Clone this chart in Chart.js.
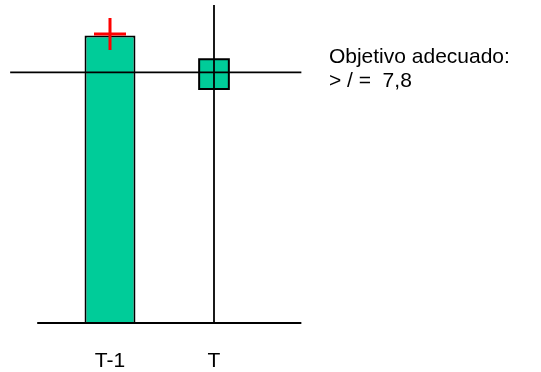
<!DOCTYPE html>
<html>
<head>
<meta charset="utf-8">
<script src="https://cdn.jsdelivr.net/npm/chart.js@4/dist/chart.umd.min.js"></script>
<style>
  html, body { margin: 0; padding: 0; background: #fff; }
  #wrap { width: 541px; height: 372px; }
</style>
</head>
<body>
<div id="wrap"><canvas id="can" width="541" height="372"></canvas></div>
<script>
// categories and values
const periods = ['T-1', 'T'];
const barValues = [8.95, null];      // green bar
const prevMark = [9.0, null];        // red cross
const currMark = [null, 7.75];       // green square
const target = 7.8;                  // objective line
const noteLines = ['Objetivo adecuado:', '> / =  7,8'];

const FONT = '"Liberation Sans", Arial, sans-serif';

// reference lines + note, drawn on top of the datasets
const refLines = {
  id: 'refLines',
  afterDatasetsDraw(chart) {
    const ctx = chart.ctx;
    const x = chart.scales.x, y = chart.scales.y;
    ctx.save();
    ctx.strokeStyle = '#000';
    ctx.lineWidth = 1.8;
    // target line
    ctx.beginPath();
    ctx.moveTo(x.getPixelForValue(-0.96), y.getPixelForValue(target));
    ctx.lineTo(x.getPixelForValue(1.84), y.getPixelForValue(target));
    ctx.stroke();
    // base line
    ctx.beginPath();
    ctx.moveTo(x.getPixelForValue(-0.70), y.getPixelForValue(0));
    ctx.lineTo(x.getPixelForValue(1.84), y.getPixelForValue(0));
    ctx.stroke();
    // vertical line at T
    ctx.beginPath();
    ctx.moveTo(x.getPixelForValue(1), y.getPixelForValue(y.max));
    ctx.lineTo(x.getPixelForValue(1), y.getPixelForValue(0));
    ctx.stroke();
    // note
    ctx.fillStyle = '#000';
    ctx.font = '21px ' + FONT;
    ctx.textBaseline = 'alphabetic';
    const tx = x.getPixelForValue(2.105);
    const ty = y.getPixelForValue(target);
    ctx.fillText(noteLines[0], tx, ty - 9);
    ctx.fillText(noteLines[1], tx, ty + 15);
    ctx.restore();
  }
};

const ctx = document.getElementById('can').getContext('2d');
new Chart(ctx, {
  type: 'bar',
  data: {
    labels: periods,
    datasets: [
      {
        type: 'line',
        data: prevMark,
        showLine: false,
        pointStyle: 'cross',
        pointRadius: 16,
        borderColor: '#ff0000',
        borderWidth: 3,
        pointHoverRadius: 16
      },
      {
        type: 'line',
        data: currMark,
        showLine: false,
        pointStyle: 'rect',
        pointRadius: 21,
        backgroundColor: '#00cc99',
        borderColor: '#000',
        borderWidth: 2,
        pointHoverRadius: 21
      },
      {
        data: barValues,
        backgroundColor: '#00cc99',
        borderColor: '#000',
        borderWidth: 2,
        categoryPercentage: 1,
        barPercentage: 0.49
      }
    ]
  },
  options: {
    responsive: false,
    animation: false,
    events: [],
    layout: { autoPadding: false, padding: { left: 58, right: 275, top: 5, bottom: 0 } },
    plugins: { legend: { display: false }, tooltip: { enabled: false } },
    scales: {
      x: {
        offset: true,
        grid: { display: false, drawTicks: false },
        border: { display: false },
        afterFit(scale) { scale.height = 49; },
        ticks: {
          color: '#000',
          padding: 26,
          font: { family: FONT, size: 21 }
        }
      },
      y: {
        display: false,
        min: 0,
        max: 9.9
      }
    }
  },
  plugins: [refLines]
});
</script>
</body>
</html>
